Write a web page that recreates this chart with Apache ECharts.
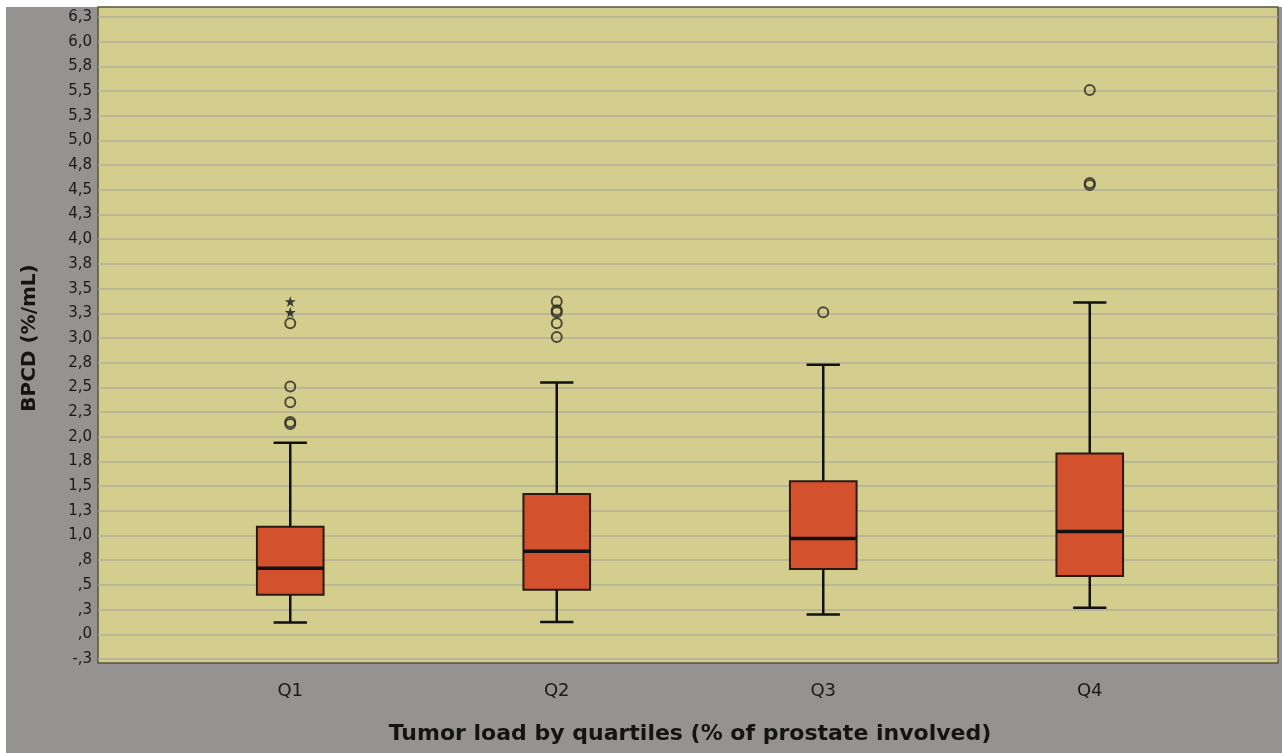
<!DOCTYPE html>
<html>
<head>
<meta charset="utf-8">
<style>
  html, body { margin: 0; padding: 0; background: #ffffff; }
  #chart { width: 1282px; height: 753px; }
</style>
<script src="https://cdn.jsdelivr.net/npm/echarts@6/dist/echarts.min.js"></script>
</head>
<body>
<div id="chart"></div>
<script>
const categories = ['Q1', 'Q2', 'Q3', 'Q4'];
// [lower whisker, Q1, median, Q3, upper whisker]
const boxStats = [
  [0.12, 0.40, 0.67, 1.09, 1.94],
  [0.125, 0.45, 0.84, 1.42, 2.55],
  [0.20, 0.66, 0.97, 1.55, 2.73],
  [0.27, 0.59, 1.04, 1.83, 3.36]
];
const circleOutliers = [
  ['Q1', 2.13], ['Q1', 2.15], ['Q1', 2.35], ['Q1', 2.51], ['Q1', 3.15],
  ['Q2', 3.01], ['Q2', 3.15], ['Q2', 3.26], ['Q2', 3.28], ['Q2', 3.37],
  ['Q3', 3.26],
  ['Q4', 4.55], ['Q4', 4.57], ['Q4', 5.51]
];
const starOutliers = [
  ['Q1', 3.26], ['Q1', 3.37]
];

const yMin = -0.25;
const yMax = 6.25;
const yStep = 0.25;

// SPSS style: one decimal, comma, no leading zero
const fmtTick = function(v) {
  const r = Math.sign(v) * Math.round(Math.abs(v) * 10) / 10;
  const s = Math.abs(r).toFixed(1).replace('.', ',').replace(/^0,/, ',');
  return (r < 0 ? '-' : '') + s;
};

const STAR = 'path://M50,0 L61,35 L98,35 L68,57 L79,91 L50,70 L21,91 L32,57 L2,35 L39,35 Z';
const FONT = '"DejaVu Sans", sans-serif';

const myChart = echarts.init(document.querySelector('#chart'));

const option = {
  backgroundColor: '#ffffff',
  animation: false,
  graphic: [
    {
      type: 'rect',
      z: -10,
      shape: { x: 6, y: 7, width: 1276, height: 746 },
      style: { fill: '#959292' }
    }
  ],
  grid: [
    // yellow plot frame
    { left: 98, right: 4, top: 7, bottom: 90, show: true, backgroundColor: '#d3ce8e', borderColor: '#55533f', borderWidth: 1.5 },
    // grid lines + y ticks
    { left: 98, right: 4, top: 17, bottom: 94 },
    // boxes
    { left: 157, right: 59, top: 17, bottom: 94 }
  ],
  xAxis: [
    { gridIndex: 0, type: 'value', show: false, min: 0, max: 1 },
    { gridIndex: 1, type: 'value', show: false, min: 0, max: 1 },
    {
      gridIndex: 2,
      type: 'category',
      data: categories,
      boundaryGap: true,
      name: 'Tumor load by quartiles (% of prostate involved)',
      nameLocation: 'middle',
      nameGap: 64,
      nameTextStyle: { fontFamily: FONT, fontWeight: 'bold', fontSize: 22, color: '#141414' },
      axisLine: { show: false },
      axisTick: { show: false },
      axisLabel: { margin: 23, fontFamily: FONT, fontSize: 18, color: '#1a1a1a' }
    }
  ],
  yAxis: [
    { gridIndex: 0, type: 'value', show: false, min: 0, max: 1 },
    {
      gridIndex: 1,
      type: 'value',
      min: yMin,
      max: yMax,
      interval: yStep,
      name: 'BPCD (%/mL)',
      nameLocation: 'middle',
      nameGap: 58,
      nameTextStyle: { fontFamily: FONT, fontWeight: 'bold', fontSize: 20, color: '#141414' },
      axisLine: { show: false },
      axisTick: { show: false },
      axisLabel: { margin: 6, fontFamily: FONT, fontSize: 15, color: '#1a1a1a', formatter: fmtTick },
      splitLine: { show: true, lineStyle: { color: '#b2ae98', width: 1.5 } }
    },
    { gridIndex: 2, type: 'value', show: false, min: yMin, max: yMax }
  ],
  series: [
    {
      type: 'custom',
      xAxisIndex: 2,
      yAxisIndex: 2,
      z: 5,
      data: boxStats.map((s, i) => [i].concat(s)),
      renderItem(params, api) {
        const x = api.value(0);
        const lo = api.coord([x, api.value(1)]);
        const q1 = api.coord([x, api.value(2)]);
        const md = api.coord([x, api.value(3)]);
        const q3 = api.coord([x, api.value(4)]);
        const hi = api.coord([x, api.value(5)]);
        const band = api.size([1, 0])[0];
        const bw = band * 0.25;
        const cw = bw * 0.5;
        const cx = lo[0];
        const line = { stroke: '#111111', lineWidth: 2.5 };
        return {
          type: 'group',
          children: [
            { type: 'line', shape: { x1: cx, y1: hi[1], x2: cx, y2: q3[1] }, style: line },
            { type: 'line', shape: { x1: cx, y1: q1[1], x2: cx, y2: lo[1] }, style: line },
            { type: 'line', shape: { x1: cx - cw / 2, y1: hi[1], x2: cx + cw / 2, y2: hi[1] }, style: line },
            { type: 'line', shape: { x1: cx - cw / 2, y1: lo[1], x2: cx + cw / 2, y2: lo[1] }, style: line },
            {
              type: 'rect',
              shape: { x: cx - bw / 2, y: q3[1], width: bw, height: q1[1] - q3[1] },
              style: { fill: '#d4512e', stroke: '#2a1a14', lineWidth: 2 }
            },
            { type: 'line', shape: { x1: cx - bw / 2, y1: md[1], x2: cx + bw / 2, y2: md[1] }, style: { stroke: '#111111', lineWidth: 3.5 } }
          ]
        };
      }
    },
    {
      type: 'scatter',
      xAxisIndex: 2,
      yAxisIndex: 2,
      z: 6,
      symbol: 'circle',
      symbolSize: 10,
      itemStyle: { color: 'rgba(0,0,0,0)', borderColor: '#2b2a1e', borderWidth: 2 },
      data: circleOutliers
    },
    {
      type: 'scatter',
      xAxisIndex: 2,
      yAxisIndex: 2,
      z: 7,
      symbol: STAR,
      symbolSize: 11,
      itemStyle: { color: '#151515' },
      data: starOutliers
    }
  ]
};

myChart.setOption(option);

window.addEventListener('resize', function() {
  myChart.resize();
});
</script>
</body>
</html>
